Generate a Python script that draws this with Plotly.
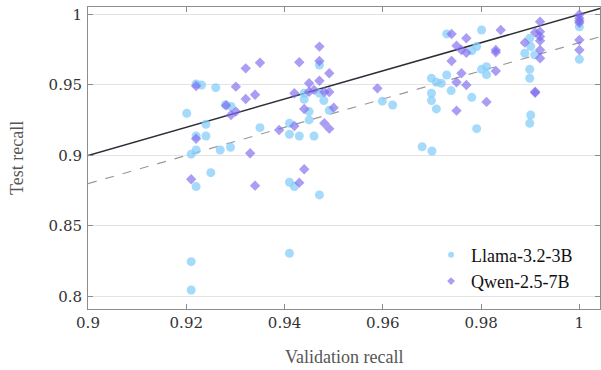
import plotly.graph_objects as go

# ---- data ----
llama_val = [0.9220, 0.9231, 0.9260, 0.9201, 0.9280, 0.9291, 0.9240, 0.9350, 0.9220, 0.9240,
             0.9220, 0.9210, 0.9269, 0.9290, 0.9250, 0.9220, 0.9210, 0.9210, 0.9410, 0.9471,
             0.9440, 0.9440, 0.9471, 0.9480, 0.9450, 0.9491, 0.9450, 0.9410, 0.9410, 0.9430,
             0.9460, 0.9410, 0.9420, 0.9471, 0.9599, 0.9620, 0.9730, 0.9801, 0.9781, 0.9791,
             0.9730, 0.9699, 0.9709, 0.9719, 0.9739, 0.9801, 0.9811, 0.9811, 0.9699, 0.9699,
             0.9709, 0.9781, 0.9791, 0.9680, 0.9700, 0.9899, 0.9901, 0.9889, 0.9909, 0.9899,
             0.9899, 0.9901, 0.9899, 1.0000, 1.0000]
llama_test = [0.9507, 0.9500, 0.9481, 0.9299, 0.9360, 0.9348, 0.9221, 0.9197, 0.9138, 0.9138,
              0.9039, 0.9009, 0.9039, 0.9058, 0.8878, 0.8779, 0.8247, 0.8046, 0.8306, 0.9642,
              0.9441, 0.9399, 0.9441, 0.9389, 0.9311, 0.9321, 0.9252, 0.9228, 0.9150, 0.9138,
              0.9138, 0.8810, 0.8779, 0.8720, 0.9385, 0.9358, 0.9862, 0.9890, 0.9743, 0.9772,
              0.9571, 0.9548, 0.9519, 0.9512, 0.9460, 0.9611, 0.9630, 0.9573, 0.9441, 0.9389,
              0.9330, 0.9412, 0.9190, 0.9062, 0.9032, 0.9831, 0.9772, 0.9725, 0.9713, 0.9611,
              0.9548, 0.9287, 0.9228, 0.9913, 0.9682]

qwen_val = [0.9321, 0.9350, 0.9220, 0.9301, 0.9321, 0.9340, 0.9281, 0.9301, 0.9291, 0.9389,
            0.9220, 0.9330, 0.9210, 0.9340, 0.9471, 0.9430, 0.9471, 0.9491, 0.9450, 0.9471,
            0.9420, 0.9450, 0.9460, 0.9481, 0.9491, 0.9440, 0.9500, 0.9481, 0.9491, 0.9420,
            0.9440, 0.9430, 0.9589, 0.9740, 0.9770, 0.9750, 0.9760, 0.9770, 0.9740, 0.9760,
            0.9750, 0.9770, 0.9811, 0.9750, 0.9840, 0.9920, 0.9910, 0.9920, 0.9920, 0.9920,
            0.9889, 0.9920, 0.9920, 0.9910, 0.9910, 1.0000, 1.0000, 1.0000, 1.0000, 1.0000,
            1.0000, 0.9830, 0.9830, 0.9830]
qwen_test = [0.9618, 0.9658, 0.9493, 0.9488, 0.9401, 0.9431, 0.9355, 0.9311, 0.9287, 0.9181,
             0.9119, 0.9016, 0.8831, 0.8786, 0.9772, 0.9661, 0.9670, 0.9583, 0.9512, 0.9530,
             0.9441, 0.9452, 0.9465, 0.9450, 0.9450, 0.9330, 0.9339, 0.9228, 0.9190, 0.9209,
             0.8902, 0.8807, 0.9476, 0.9862, 0.9831, 0.9779, 0.9748, 0.9729, 0.9670, 0.9583,
             0.9519, 0.9500, 0.9380, 0.9318, 0.9890, 0.9949, 0.9873, 0.9878, 0.9843, 0.9814,
             0.9800, 0.9748, 0.9689, 0.9452, 0.9445, 1.0000, 0.9973, 0.9955, 0.9941, 0.9819,
             0.9748, 0.9748, 0.9732, 0.9599]

x_ticks = [0.9, 0.92, 0.94, 0.96, 0.98, 1.0]
x_tick_labels = ["0.9", "0.92", "0.94", "0.96", "0.98", "1"]
y_ticks = [0.8, 0.85, 0.9, 0.95, 1.0]
y_tick_labels = ["0.8", "0.85", "0.9", "0.95", "1"]

x_range = [0.9, 1.0042]
y_range = [0.7911, 1.0053]
offset = 0.02  # dashed line: test = validation - offset

LLAMA_COLOR = "#87CEFA"
QWEN_COLOR = "#7B68EE"

fig = go.Figure()

# reference lines
fig.add_trace(go.Scatter(x=x_range, y=x_range, mode="lines",
                         line=dict(color="#2e2e38", width=1.5),
                         showlegend=False, hoverinfo="skip"))
fig.add_trace(go.Scatter(x=x_range, y=[v - offset for v in x_range], mode="lines",
                         line=dict(color="#9a9a9a", width=1.2, dash="dash"),
                         showlegend=False, hoverinfo="skip"))

fig.add_trace(go.Scatter(x=llama_val, y=llama_test, mode="markers", name="Llama-3.2-3B",
                         showlegend=False,
                         marker=dict(symbol="circle", size=9, color=LLAMA_COLOR, opacity=0.75,
                                     line=dict(width=0))))
fig.add_trace(go.Scatter(x=qwen_val, y=qwen_test, mode="markers", name="Qwen-2.5-7B",
                         showlegend=False,
                         marker=dict(symbol="diamond", size=8, color=QWEN_COLOR, opacity=0.65,
                                     line=dict(width=0))))

# legend entries with small markers (as in the reference)
fig.add_trace(go.Scatter(x=[None], y=[None], mode="markers", name="Llama-3.2-3B",
                         marker=dict(symbol="circle", size=6, color=LLAMA_COLOR, opacity=0.75)))
fig.add_trace(go.Scatter(x=[None], y=[None], mode="markers", name="Qwen-2.5-7B",
                         marker=dict(symbol="diamond", size=6, color=QWEN_COLOR, opacity=0.65)))

axis_common = dict(showline=True, linecolor="#8c8c8c", linewidth=1, mirror="ticks",
                   ticks="inside", ticklen=5, tickcolor="#8c8c8c", zeroline=False,
                   automargin=False,
                   tickfont=dict(family="DejaVu Serif", size=15, color="#333333"))

fig.update_xaxes(range=x_range, tickvals=x_ticks, ticktext=x_tick_labels, showgrid=False,
                 **axis_common)
fig.update_yaxes(range=y_range, tickvals=y_ticks, ticktext=y_tick_labels, showgrid=True,
                 gridcolor="#e3e3e3", gridwidth=1, ticklabelstandoff=2,
                 **axis_common)

title_font = dict(family="Liberation Serif", size=18, color="#555555")
fig.add_annotation(text="Validation recall", xref="paper", yref="paper",
                   x=0.5, y=-48 / 302, xanchor="center", yanchor="middle",
                   showarrow=False, font=title_font)
fig.add_annotation(text="Test recall", xref="paper", yref="paper",
                   x=-71 / 512, y=0.5, xanchor="center", yanchor="middle",
                   textangle=-90, showarrow=False, font=title_font)

fig.update_layout(
    width=601, height=370,
    margin=dict(l=88, r=1, t=7, b=61),
    plot_bgcolor="white", paper_bgcolor="white",
    legend=dict(x=0.67, y=0.24, xanchor="left", yanchor="top",
                bgcolor="rgba(0,0,0,0)", borderwidth=0,
                font=dict(family="Liberation Serif", size=18, color="#111111"),
                itemsizing="trace", tracegroupgap=0),
)

fig.write_html("out.html", config={"displayModeBar": False},
               post_script="document.body.style.margin='0';document.body.style.overflow='hidden';")
